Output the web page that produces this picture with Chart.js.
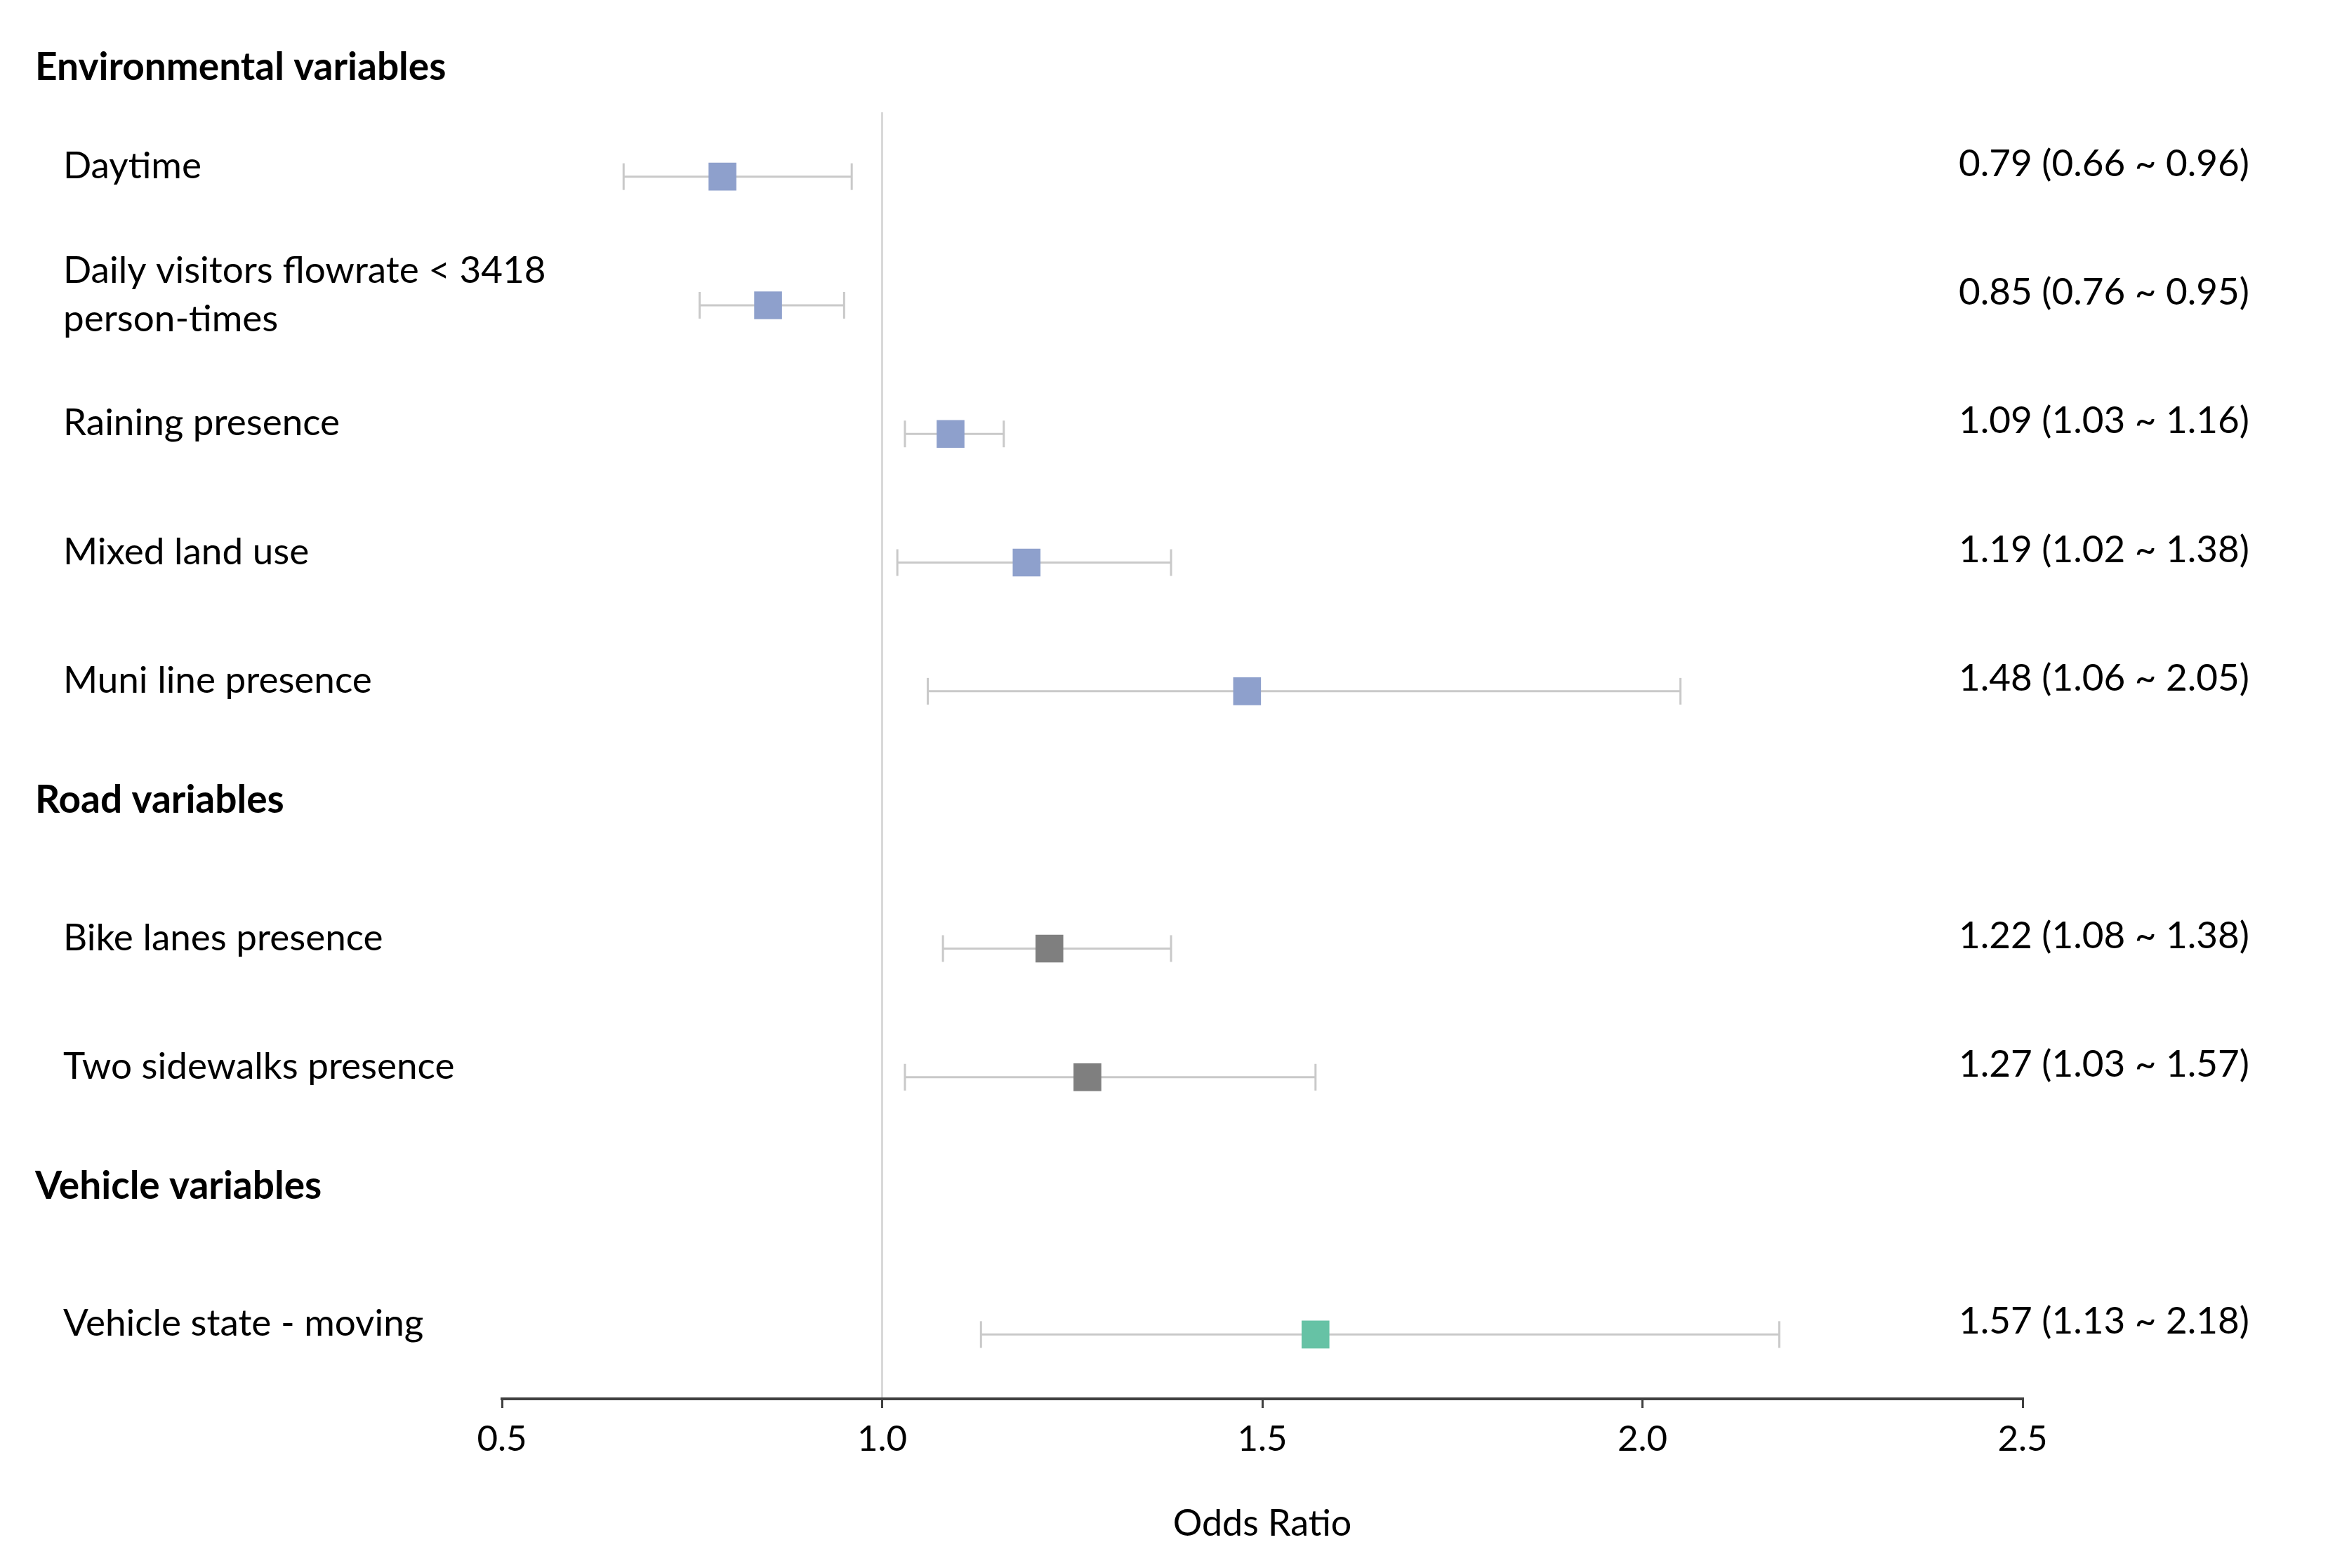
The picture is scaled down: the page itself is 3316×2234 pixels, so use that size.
<!DOCTYPE html>
<html>
<head>
<meta charset="utf-8">
<script src="https://cdn.jsdelivr.net/npm/chart.js@4.4.1/dist/chart.umd.min.js"></script>
<style>
  html, body { margin: 0; padding: 0; background: #fff; }
  canvas { display: block; }
</style>
</head>
<body>
<canvas id="forestChart" width="3316" height="2234"></canvas>
<script>
const variableLabels = [
  'Daytime',
  'Daily visitors flowrate < 3418\nperson-times',
  'Raining presence',
  'Mixed land use',
  'Muni line presence',
  'Bike lanes presence',
  'Two sidewalks presence',
  'Vehicle state - moving',
];
const variableGroups = ['env', 'env', 'env', 'env', 'env', 'road', 'road', 'vehicle'];
const rowSlots = [0, 1, 2, 3, 4, 6, 7, 9];
const oddsRatios = [0.79, 0.85, 1.09, 1.19, 1.48, 1.22, 1.27, 1.57];
const lowerCI = [0.66, 0.76, 1.03, 1.02, 1.06, 1.08, 1.03, 1.13];
const upperCI = [0.96, 0.95, 1.16, 1.38, 2.05, 1.38, 1.57, 2.18];

const groupTitles = ['Environmental variables', 'Road variables', 'Vehicle variables'];
const groupSlots = [-1, 5, 8];

const xTicks = [0.5, 1.0, 1.5, 2.0, 2.5];

const groupColors = { env: '#8ea0cc', road: '#7f7f7f', vehicle: '#66c2a5' };
const barColor = '#c9c9c9';
const family = 'Lato';

// size the fonts so the text is as wide as in the picture (Calibri there)
const measureCtx = document.createElement('canvas').getContext('2d');
measureCtx.font = `100px ${family}`;
const fontPx = Math.round(684 / measureCtx.measureText('Daily visitors flowrate < 3418').width * 100);
measureCtx.font = `bold 100px ${family}`;
const boldPx = Math.round(581 / measureCtx.measureText('Environmental variables').width * 100);
const fontScale = fontPx / 58;

const errorBarSets = rowSlots.map((slot, i) => ({
  data: [{ x: lowerCI[i], y: slot }, { x: upperCI[i], y: slot }],
  showLine: true,
  borderColor: barColor,
  borderWidth: 3,
  pointStyle: 'line',
  rotation: 90,
  pointRadius: 19,
  pointBorderColor: barColor,
  pointBorderWidth: 3,
  clip: false,
}));

const markerSet = {
  data: rowSlots.map((slot, i) => ({ x: oddsRatios[i], y: slot })),
  pointStyle: 'rect',
  pointRadius: 28,
  pointBackgroundColor: variableGroups.map(g => groupColors[g]),
  pointBorderWidth: 0,
  clip: false,
};

const textPlugin = {
  id: 'forestText',
  afterDraw(chart) {
    const { ctx } = chart;
    const yScale = chart.scales.y;
    ctx.save();
    ctx.fillStyle = '#000';
    ctx.textAlign = 'left';
    ctx.textBaseline = 'middle';

    ctx.font = `bold ${boldPx}px ${family}`;
    groupTitles.forEach((title, i) => {
      const dy = groupSlots[i] < 0 ? 28 : -28;
      ctx.fillText(title, 50, yScale.getPixelForValue(groupSlots[i]) + dy);
    });

    ctx.font = `${fontPx}px ${family}`;
    variableLabels.forEach((label, i) => {
      const rowY = yScale.getPixelForValue(rowSlots[i]);
      const lines = label.split('\n');
      lines.forEach((line, k) => {
        ctx.fillText(line, 90, rowY - 15 + (k - (lines.length - 1) / 2) * 69);
      });
      const text = `${oddsRatios[i].toFixed(2)} (${lowerCI[i].toFixed(2)} ~ ${upperCI[i].toFixed(2)})`;
      ctx.fillText(text, 2790, rowY - 18);
    });
    ctx.restore();
  },
};

new Chart(document.getElementById('forestChart'), {
  type: 'scatter',
  data: { datasets: [markerSet, ...errorBarSets] },
  options: {
    responsive: false,
    devicePixelRatio: 1,
    animation: false,
    layout: { padding: { left: 715, right: 435, top: 160, bottom: 0 } },
    plugins: { legend: { display: false }, tooltip: { enabled: false } },
    scales: {
      x: {
        type: 'linear',
        min: 0.5,
        max: 2.5,
        afterBuildTicks: (scale) => { scale.ticks = xTicks.map(v => ({ value: v })); },
        afterFit: (scale) => { scale.height = 241; },
        ticks: {
          color: '#000',
          padding: 14,
          font: { family, size: Math.round(56 * fontScale) },
          callback: v => v.toFixed(1),
        },
        grid: {
          color: c => (c.tick && c.tick.value === 1 ? '#d9d9d9' : 'rgba(0,0,0,0)'),
          lineWidth: 3,
          tickColor: '#404040',
          tickWidth: 3,
          tickLength: 13,
        },
        border: { color: '#404040', width: 4 },
        title: {
          display: true,
          text: 'Odds Ratio',
          color: '#000',
          font: { family, size: Math.round(57 * fontScale) },
          padding: { top: 0, bottom: 32 },
        },
      },
      y: {
        type: 'linear',
        min: -0.5,
        max: 9.5,
        reverse: true,
        display: false,
      },
    },
  },
  plugins: [textPlugin],
});
</script>
</body>
</html>
